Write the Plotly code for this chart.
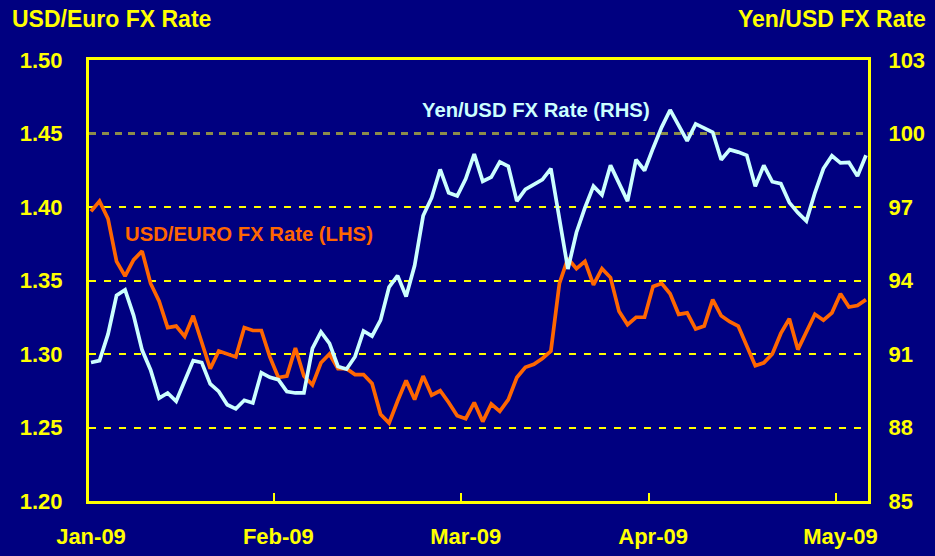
import pandas as pd
import plotly.graph_objects as go

# Business-day categories starting 1 Jan 2009
dates = pd.bdate_range("2009-01-01", periods=92).strftime("%Y-%m-%d").tolist()

usd_euro = [
    1.397, 1.404, 1.392, 1.363, 1.353, 1.364, 1.370, 1.348, 1.336, 1.318,
    1.319, 1.312, 1.326, 1.308, 1.290, 1.302, 1.300, 1.298, 1.318, 1.316,
    1.316, 1.298, 1.284, 1.285, 1.304, 1.285, 1.279, 1.294, 1.300, 1.290,
    1.290, 1.286, 1.286, 1.280, 1.259, 1.253, 1.268, 1.282, 1.269, 1.285,
    1.272, 1.275, 1.267, 1.258, 1.256, 1.267, 1.254, 1.266, 1.261, 1.269,
    1.284, 1.291, 1.293, 1.297, 1.302, 1.348, 1.365, 1.358, 1.363, 1.347,
    1.358, 1.352, 1.329, 1.320, 1.325, 1.325, 1.346, 1.348, 1.341, 1.327,
    1.328, 1.317, 1.319, 1.337, 1.326, 1.322, 1.319, 1.305, 1.292, 1.294,
    1.300, 1.314, 1.324, 1.303, 1.315, 1.327, 1.323, 1.328, 1.341, 1.332,
    1.333, 1.337,
]

yen_usd = [
    90.65, 90.73, 91.81, 93.39, 93.62, 92.58, 91.16, 90.35, 89.20, 89.41,
    89.07, 89.88, 90.73, 90.65, 89.78, 89.47, 88.93, 88.76, 89.11, 89.00,
    90.24, 90.05, 89.95, 89.47, 89.41, 89.41, 91.23, 91.90, 91.43, 90.49,
    90.38, 90.89, 91.94, 91.73, 92.38, 93.73, 94.20, 93.35, 94.61, 96.64,
    97.38, 98.53, 97.58, 97.45, 98.15, 99.16, 98.05, 98.22, 98.84, 98.66,
    97.24, 97.72, 97.92, 98.12, 98.57, 96.43, 94.47, 95.96, 96.97, 97.85,
    97.49, 98.70, 97.99, 97.24, 98.93, 98.49, 99.40, 100.25, 100.96, 100.35,
    99.70, 100.39, 100.21, 100.05, 98.93, 99.34, 99.24, 99.11, 97.85, 98.70,
    98.03, 97.95, 97.18, 96.77, 96.43, 97.58, 98.57, 99.09, 98.80, 98.82,
    98.26, 99.11,
]

tick_idx = [0, 22, 44, 66, 88]
tick_labels = ["Jan-09", "Feb-09", "Mar-09", "Apr-09", "May-09"]
left_ticks = [1.20, 1.25, 1.30, 1.35, 1.40, 1.45, 1.50]
right_ticks = [85, 88, 91, 94, 97, 100, 103]

NAVY = "#000080"
YELLOW = "#FFFF00"
OLIVE = "#8C8C4A"
ORANGE = "#FF6600"
CYAN = "#CCFFFF"
FONT = "Liberation Sans, Arial, sans-serif"

n = len(dates)
x_range = [-0.235, n - 1 + 0.235]
# category-boundary tick marks (between the labelled categories and their predecessors)
boundary_ticks = [i - 0.5 for i in tick_idx[1:]]

fig = go.Figure()
fig.add_trace(go.Scatter(x=dates, y=usd_euro, mode="lines",
                         line=dict(color=ORANGE, width=3.7),
                         name="USD/EURO FX Rate (LHS)", yaxis="y"))
fig.add_trace(go.Scatter(x=dates, y=yen_usd, mode="lines",
                         line=dict(color=CYAN, width=3.7),
                         name="Yen/USD FX Rate (RHS)", yaxis="y2"))
# helper trace so the tick-mark axis is rendered
fig.add_trace(go.Scatter(x=[None], y=[None], xaxis="x2", yaxis="y",
                         mode="lines", showlegend=False, hoverinfo="skip"))

tickfont = dict(family=FONT, size=22, color=YELLOW, weight="bold")

fig.update_layout(
    width=935, height=556,
    paper_bgcolor=NAVY, plot_bgcolor=NAVY,
    margin=dict(l=89, r=67, t=59.5, b=54.5),
    showlegend=False,
    font=dict(family=FONT, color=YELLOW),
    xaxis=dict(
        type="category", range=x_range,
        tickmode="array",
        tickvals=[dates[i] for i in tick_idx], ticktext=tick_labels,
        tickangle=0, ticks="", automargin=False,
        showgrid=False, zeroline=False,
        showline=True, linecolor=YELLOW, linewidth=3, mirror=True,
        tickfont=tickfont, ticklabelstandoff=14,
    ),
    xaxis2=dict(
        overlaying="x", anchor="y", side="bottom",
        range=x_range, tickmode="array", tickvals=boundary_ticks,
        ticks="inside", ticklen=8, tickwidth=2, tickcolor=YELLOW,
        showticklabels=False, showgrid=False, zeroline=False,
        showline=False, automargin=False,
    ),
    yaxis=dict(
        range=[1.20, 1.50], tickmode="array", tickvals=left_ticks,
        tickformat=".2f", ticks="", automargin=False,
        showgrid=True, gridcolor=YELLOW, gridwidth=1.5, griddash="7px,8px",
        zeroline=False,
        showline=True, linecolor=YELLOW, linewidth=3, mirror=True,
        tickfont=tickfont, ticklabelstandoff=19,
    ),
    yaxis2=dict(
        range=[85, 103], tickmode="array", tickvals=right_ticks,
        overlaying="y", side="right", ticks="", automargin=False,
        showgrid=False, zeroline=False,
        showline=True, linecolor=YELLOW, linewidth=3,
        tickfont=tickfont, ticklabelstandoff=13,
    ),
    shapes=[
        # mask the yellow gridline at 1.45, then redraw it in olive
        dict(type="line", xref="x", yref="y", x0=x_range[0], x1=x_range[1],
             y0=left_ticks[-2], y1=left_ticks[-2], layer="between",
             line=dict(color=NAVY, width=4)),
        dict(type="line", xref="x", yref="y", x0=x_range[0], x1=x_range[1],
             y0=left_ticks[-2], y1=left_ticks[-2], layer="between",
             line=dict(color=OLIVE, width=3, dash="7px,6px")),
    ],
    annotations=[
        dict(text="USD/Euro FX Rate", xref="paper", yref="paper",
             x=-0.101, y=1.092, xanchor="left", yanchor="middle",
             showarrow=False,
             font=dict(family=FONT, size=23, color=YELLOW, weight="bold")),
        dict(text="Yen/USD FX Rate", xref="paper", yref="paper",
             x=1.077, y=1.092, xanchor="right", yanchor="middle",
             showarrow=False,
             font=dict(family=FONT, size=23, color=YELLOW, weight="bold")),
        dict(text="Yen/USD FX Rate (RHS)", xref="paper", yref="paper",
             x=0.574, y=0.887, xanchor="center", yanchor="middle",
             showarrow=False,
             font=dict(family=FONT, size=20.3, color=CYAN, weight="bold")),
        dict(text="USD/EURO FX Rate (LHS)", xref="paper", yref="paper",
             x=0.206, y=0.605, xanchor="center", yanchor="middle",
             showarrow=False,
             font=dict(family=FONT, size=20.3, color=ORANGE, weight="bold")),
    ],
)

fig.write_html("out.html", config={"displayModeBar": False},
               post_script="document.body.style.margin='0';document.body.style.overflow='hidden';")
